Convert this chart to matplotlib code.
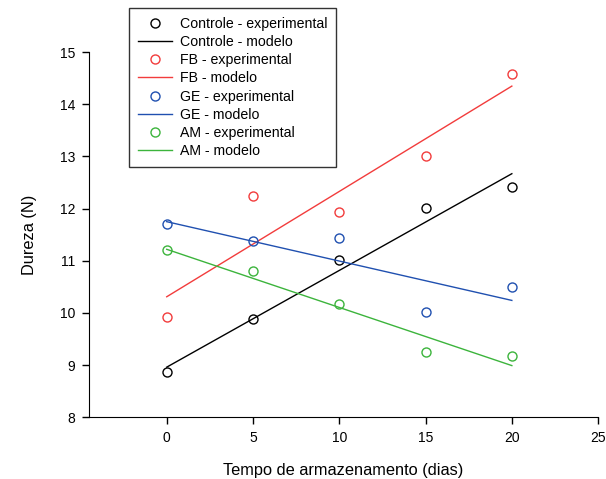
import numpy as np
import matplotlib.pyplot as plt

plt.rcParams['font.family'] = ['Liberation Sans', 'DejaVu Sans']

dias = [0, 5, 10, 15, 20]

controle_exp = [8.86, 9.88, 11.02, 12.02, 12.42]
fb_exp = [9.92, 12.24, 11.93, 13.01, 14.59]
ge_exp = [11.71, 11.37, 11.43, 10.02, 10.50]
am_exp = [11.20, 10.81, 10.18, 9.25, 9.17]

# model lines: values at day 0 and day 20
modelo_x = [0, 20]
controle_mod = [8.96, 12.67]
fb_mod = [10.31, 14.35]
ge_mod = [11.75, 10.24]
am_mod = [11.22, 8.99]

series = [
    ("Controle", controle_exp, controle_mod, "black"),
    ("FB", fb_exp, fb_mod, "#f23c3c"),
    ("GE", ge_exp, ge_mod, "#2050b0"),
    ("AM", am_exp, am_mod, "#3cb43c"),
]

fig = plt.figure(figsize=(6.06, 4.79), dpi=100)
ax = fig.add_axes([0.147, 0.129, 0.84, 0.762])

for name, exp, mod, color in series:
    ax.plot(dias, exp, linestyle='none', marker='o', markersize=6.5,
            markerfacecolor='none', markeredgecolor=color, markeredgewidth=1,
            label=f'{name} - experimental')
    ax.plot(modelo_x, mod, color=color, linewidth=1, label=f'{name} - modelo')

ax.set_xlim(-4.5, 25)
ax.set_ylim(8, 15)
ax.set_xticks([0, 5, 10, 15, 20, 25])
ax.set_yticks(range(8, 16))
ax.tick_params(labelsize=10, direction='out', length=5, width=1, pad=5)
ax.spines['top'].set_visible(False)
ax.spines['right'].set_visible(False)
ax.set_xlabel('Tempo de armazenamento (dias)', fontsize=11.8, labelpad=13)
ax.set_ylabel('Dureza (N)', fontsize=11.8, labelpad=16)

leg = ax.legend(loc='upper left', bbox_to_anchor=(0.213, 0.983),
                bbox_transform=fig.transFigure, fontsize=10.2, frameon=True,
                fancybox=False, edgecolor='black', handlelength=2.4,
                labelspacing=0.3, borderpad=0.6, handletextpad=0.56,
                borderaxespad=0)
leg.get_frame().set_linewidth(1)

fig.savefig('out.png', dpi=100)
